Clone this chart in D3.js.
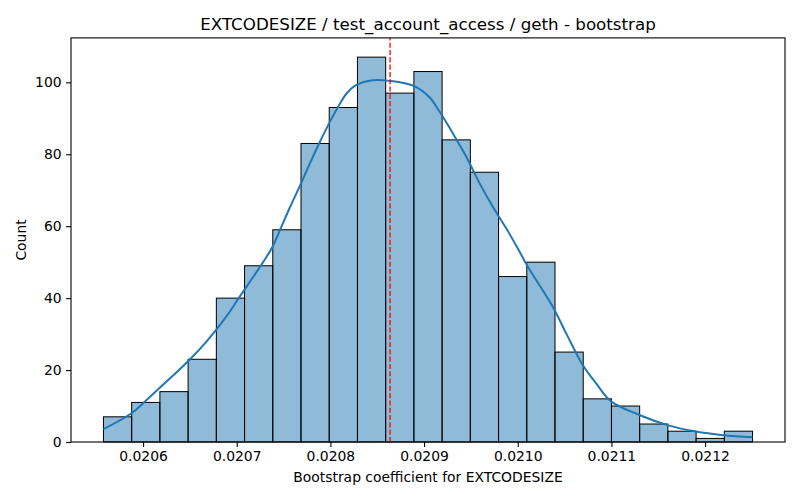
<!DOCTYPE html>
<html>
<head>
<meta charset="utf-8">
<script src="https://cdn.jsdelivr.net/npm/d3@7"></script>
<style>
  body { margin: 0; background: #fff; }
  text { font-family: "DejaVu Sans", sans-serif; fill: #000; }
</style>
</head>
<body>
<div id="chart"></div>
<script>
// Histogram bins (start, width) and counts per bin
const binStart = 0.0205577;
const binWidth = 0.00003013;
const counts = [7, 11, 14, 23, 40, 49, 59, 83, 93, 107, 97, 103, 84, 75, 46, 50, 25, 12, 10, 5, 3, 1, 3];

// KDE curve (x value, scaled count)
const kdeX = [0.02055768, 0.02058753, 0.02060746, 0.02062878, 0.02064936, 0.02066791,
  0.02068923, 0.0207016, 0.0207372, 0.0207461, 0.0207567, 0.0207674, 0.0207780, 0.0207887,
  0.0207994, 0.0208100, 0.0208172, 0.0208278, 0.0208455, 0.0208633, 0.0208889, 0.0209060,
  0.0209166, 0.0209308, 0.0209451, 0.0209593, 0.0209734, 0.0209877, 0.0210001, 0.0210108,
  0.0210374, 0.0210517, 0.0210694, 0.0210837, 0.0210997, 0.0211299, 0.0211600, 0.0211903,
  0.0212197, 0.0212506];
const kdeY = [3.6, 8.0, 12.6, 17.7, 22.8, 28.0, 35.0, 39.8, 53.8, 58.9, 65.2, 71.2, 77.4, 83.4,
  89.0, 94.0, 96.9, 99.3, 100.6, 100.4, 99.0, 95.8, 91.8, 85.8, 79.3, 71.9, 65.4, 59.4, 53.8, 48.7,
  37.6, 30.2, 21.4, 16.3, 11.3, 7.5, 4.7, 2.9, 1.9, 1.3];

// Mean of bootstrap estimate (red dashed line)
const meanValue = 0.0208637;

const xTicks = [0.0206, 0.0207, 0.0208, 0.0209, 0.0210, 0.0211, 0.0212];
const yTicks = [0, 20, 40, 60, 80, 100];

const width = 800;
const height = 500;
const margin = { top: 37.9, right: 15, bottom: 58, left: 71 };

const bins = counts.map((c, i) => ({ x0: binStart + i * binWidth, x1: binStart + (i + 1) * binWidth, count: c }));

const svg = d3.select("#chart")
  .append("svg")
  .attr("width", width)
  .attr("height", height);

// matplotlib style 5% margins
const xMin = bins[0].x0, xMax = bins[bins.length - 1].x1;
const xPad = (xMax - xMin) * 0.05;
const xScale = d3.scaleLinear()
  .domain([xMin - xPad, xMax + xPad])
  .range([margin.left, width - margin.right]);

const yMax = d3.max(counts) * 1.05;
const yScale = d3.scaleLinear()
  .domain([0, yMax])
  .range([height - margin.bottom, margin.top]);

// bars
svg.selectAll(".bar")
  .data(bins)
  .enter()
  .append("rect")
  .attr("class", "bar")
  .attr("x", d => xScale(d.x0))
  .attr("y", d => yScale(d.count))
  .attr("width", d => xScale(d.x1) - xScale(d.x0))
  .attr("height", d => yScale(0) - yScale(d.count))
  .attr("fill", "#1f77b4")
  .attr("fill-opacity", 0.5)
  .attr("stroke", "#000")
  .attr("stroke-width", 1);

// kde line
const line = d3.line()
  .x(d => xScale(d[0]))
  .y(d => yScale(d[1]))
  .curve(d3.curveCatmullRom.alpha(0.5));

svg.append("path")
  .datum(kdeX.map((x, i) => [x, kdeY[i]]))
  .attr("d", line)
  .attr("fill", "none")
  .attr("stroke", "#1f77b4")
  .attr("stroke-width", 2);

// mean line
svg.append("line")
  .attr("x1", xScale(meanValue))
  .attr("x2", xScale(meanValue))
  .attr("y1", yScale(0))
  .attr("y2", yScale(yMax))
  .attr("stroke", "red")
  .attr("stroke-width", 1.3)
  .attr("stroke-dasharray", "5.1,2.2");

// axes
const xAxis = svg.append("g")
  .attr("transform", `translate(0,${height - margin.bottom})`)
  .call(d3.axisBottom(xScale).tickValues(xTicks).tickFormat(d3.format(".4f")).tickSizeOuter(0).tickSize(4.9).tickPadding(4.5));

const yAxis = svg.append("g")
  .attr("transform", `translate(${margin.left},0)`)
  .call(d3.axisLeft(yScale).tickValues(yTicks).tickSizeOuter(0).tickSize(4.9).tickPadding(4.5));

[xAxis, yAxis].forEach(g => {
  g.select(".domain").remove();
  g.selectAll("line").attr("stroke", "#000").attr("stroke-width", 1.1);
  g.selectAll("text").attr("font-size", "13.9px").attr("font-family", "DejaVu Sans, sans-serif").attr("fill", "#000");
});

// frame
svg.append("rect")
  .attr("x", margin.left)
  .attr("y", margin.top)
  .attr("width", width - margin.left - margin.right)
  .attr("height", height - margin.top - margin.bottom)
  .attr("fill", "none")
  .attr("stroke", "#000")
  .attr("stroke-width", 1.1);

// labels
svg.append("text")
  .attr("x", (margin.left + width - margin.right) / 2)
  .attr("y", 30)
  .attr("text-anchor", "middle")
  .attr("font-size", "16.7px")
  .text("EXTCODESIZE / test_account_access / geth - bootstrap");

svg.append("text")
  .attr("x", (margin.left + width - margin.right) / 2)
  .attr("y", 482)
  .attr("text-anchor", "middle")
  .attr("font-size", "13.9px")
  .text("Bootstrap coefficient for EXTCODESIZE");

svg.append("text")
  .attr("transform", `translate(26,${(margin.top + height - margin.bottom) / 2}) rotate(-90)`)
  .attr("text-anchor", "middle")
  .attr("font-size", "13.9px")
  .text("Count");
</script>
</body>
</html>
